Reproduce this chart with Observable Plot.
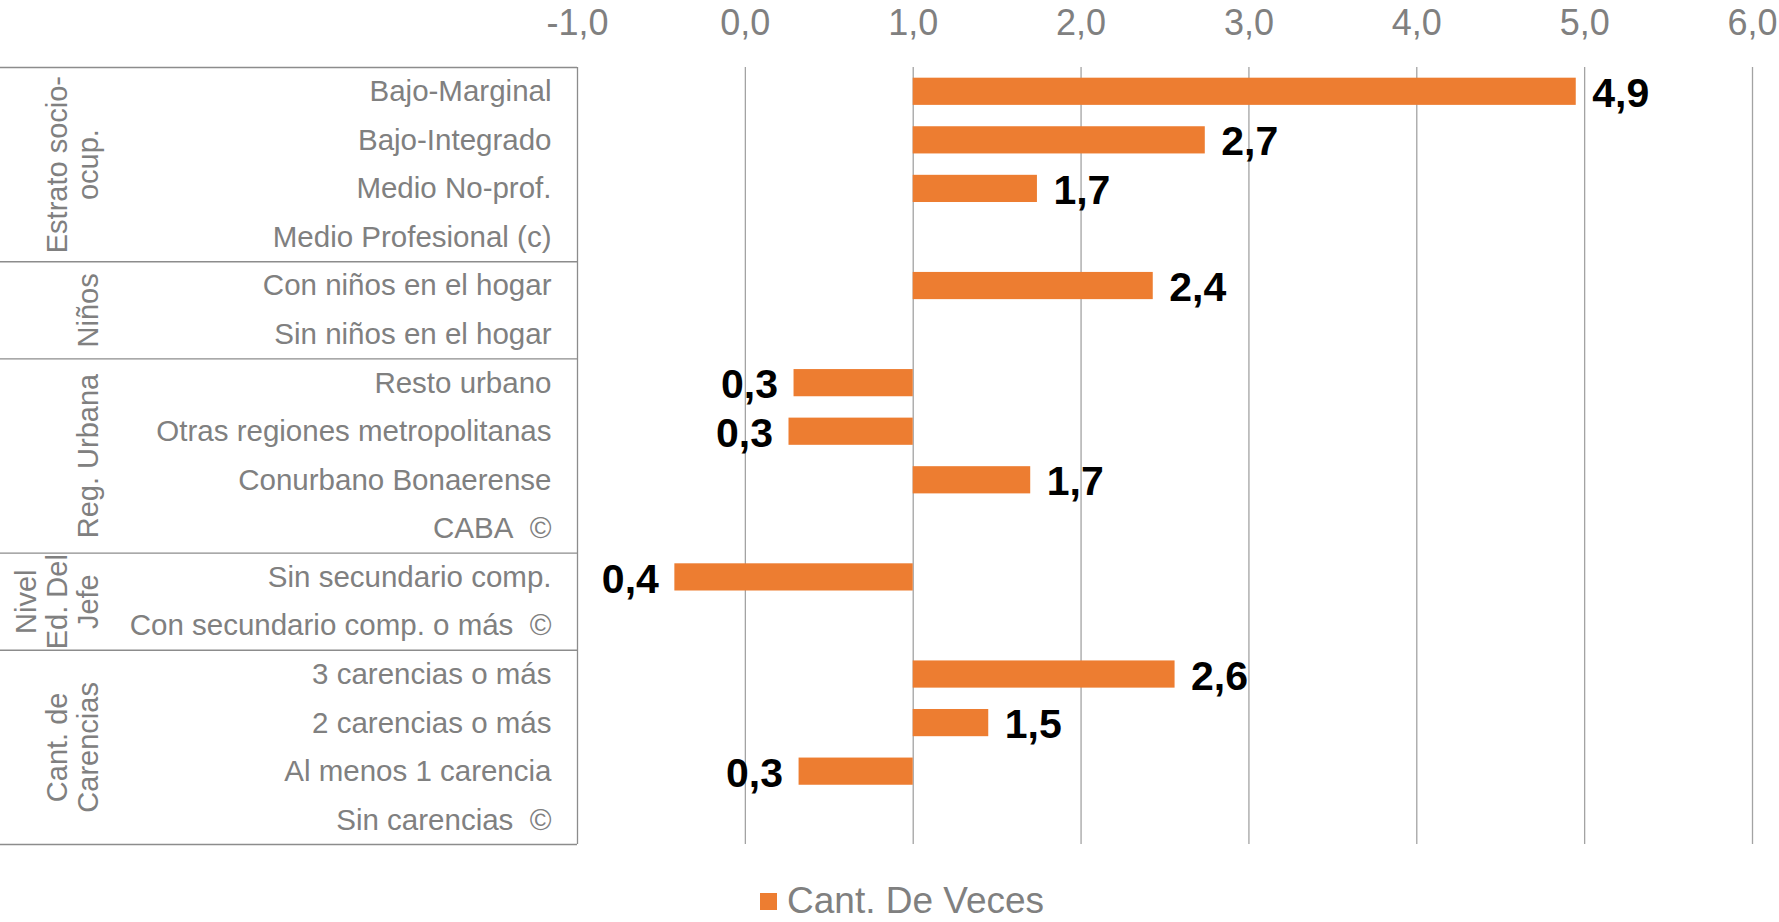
<!DOCTYPE html>
<html><head><meta charset="utf-8">
<script src="https://cdn.jsdelivr.net/npm/d3@7"></script>
<script src="https://cdn.jsdelivr.net/npm/@observablehq/plot@0.6"></script>
<style>
body{margin:0;background:#fff;font-family:"Liberation Sans",Arial,sans-serif;}
#wrap{position:relative;width:1779px;height:922px;overflow:hidden;}
#legend{position:absolute;left:760px;top:883px;height:36px;display:flex;align-items:center;font-size:37px;line-height:36px;color:#808080;white-space:nowrap;}
#legend .sw{display:inline-block;width:17px;height:17px;background:#ED7D31;margin-right:10px;}
</style></head><body>
<div id="wrap"><div id="chart"></div><div id="legend"><span class="sw"></span><span>Cant. De Veces</span></div></div>
<script>
const categories = [
  "Bajo-Marginal", "Bajo-Integrado", "Medio No-prof.", "Medio Profesional (c)",
  "Con niños en el hogar", "Sin niños en el hogar",
  "Resto urbano", "Otras regiones metropolitanas", "Conurbano Bonaerense", "CABA\u00a0\u00a0©",
  "Sin secundario comp.", "Con secundario comp. o más\u00a0\u00a0©",
  "3 carencias o más", "2 carencias o más", "Al menos 1 carencia", "Sin carencias\u00a0\u00a0©"
];
const barValues = [4.95, 2.74, 1.74, null, 2.43, null, 0.29, 0.26, 1.70, null, -0.42, null, 2.56, 1.45, 0.32, null];
const valueLabels = ["4,9", "2,7", "1,7", "", "2,4", "", "0,3", "0,3", "1,7", "", "0,4", "", "2,6", "1,5", "0,3", ""];
const groupNames = ["Estrato socio-\nocup.", "Niños", "Reg. Urbana", "Nivel\nEd. Del\nJefe", "Cant. de\nCarencias"];
const groupSizes = [4, 2, 4, 2, 4];
const xTicks = [-1, 0, 1, 2, 3, 4, 5, 6];

const W = 1779, H = 870, ML = 577, MR = 27, MT = 67, MB = 26;
const xDomain = [-1, 6];
const tableLeft = xDomain[0] - ML * (xDomain[1] - xDomain[0]) / (W - ML - MR);

const rows = categories.map((c, i) => ({i, cat: c, v: barValues[i], label: valueLabels[i]}));
const bars = rows.filter(d => d.v != null);

let start = 0;
const groups = groupNames.map((g, k) => {
  const o = {name: g, center: start + (groupSizes[k] - 1) / 2, top: start - 0.5};
  start += groupSizes[k];
  return o;
});
const bounds = groups.map(g => g.top).concat([start - 0.5]);

const fmt = d => d.toFixed(1).replace(".", ",");
const gray = "#808080";

const chart = Plot.plot({
  width: W, height: H,
  marginLeft: ML, marginRight: MR, marginTop: MT, marginBottom: MB,
  style: {fontFamily: '"Liberation Sans", Arial, sans-serif', background: "#fff"},
  x: {domain: xDomain, axis: null},
  y: {domain: [-0.5, categories.length - 0.5], reverse: true, axis: null},
  marks: [
    Plot.ruleX(xTicks.filter(d => d > -1), {x: d => d, y1: -0.5, y2: categories.length - 0.5, stroke: "#a3a3a3", strokeWidth: 1.3}),
    Plot.ruleX([-1], {x: d => d, y1: -0.5, y2: categories.length - 0.5, stroke: "#8c8c8c", strokeWidth: 1.3}),
    Plot.ruleY(bounds, {y: d => d, x1: tableLeft, x2: -1, stroke: "#8c8c8c", strokeWidth: 1.3}),
    Plot.rect(bars, {x1: 1, x2: d => d.v, y1: d => d.i - 0.28, y2: d => d.i + 0.28, fill: "#ED7D31"}),
    Plot.text(bars, {x: d => d.v, y: d => d.i, text: d => d.label,
      textAnchor: "start", fontSize: 41, fontWeight: "bold", fill: "#000",
      filter: d => d.v >= 1, dx: 16, dy: 2}),
    Plot.text(bars, {x: d => d.v, y: d => d.i, text: d => d.label,
      textAnchor: "end", fontSize: 41, fontWeight: "bold", fill: "#000",
      filter: d => d.v < 1, dx: -16, dy: 2}),
    Plot.text(rows, {x: -1, y: d => d.i, text: d => d.cat, textAnchor: "end", dx: -26, fontSize: 29.5, fill: gray}),
    Plot.text(groups, {x: tableLeft, y: d => d.center, text: d => d.name, rotate: -90,
      textAnchor: "middle", lineAnchor: "bottom", lineHeight: 1.06, dx: 97, fontSize: 29, fill: gray}),
    Plot.text(xTicks, {x: d => d, frameAnchor: "top", lineAnchor: "middle", dy: -44, text: fmt, fontSize: 36, fill: gray})
  ]
});
document.getElementById("chart").appendChild(chart);
</script>
</body></html>
